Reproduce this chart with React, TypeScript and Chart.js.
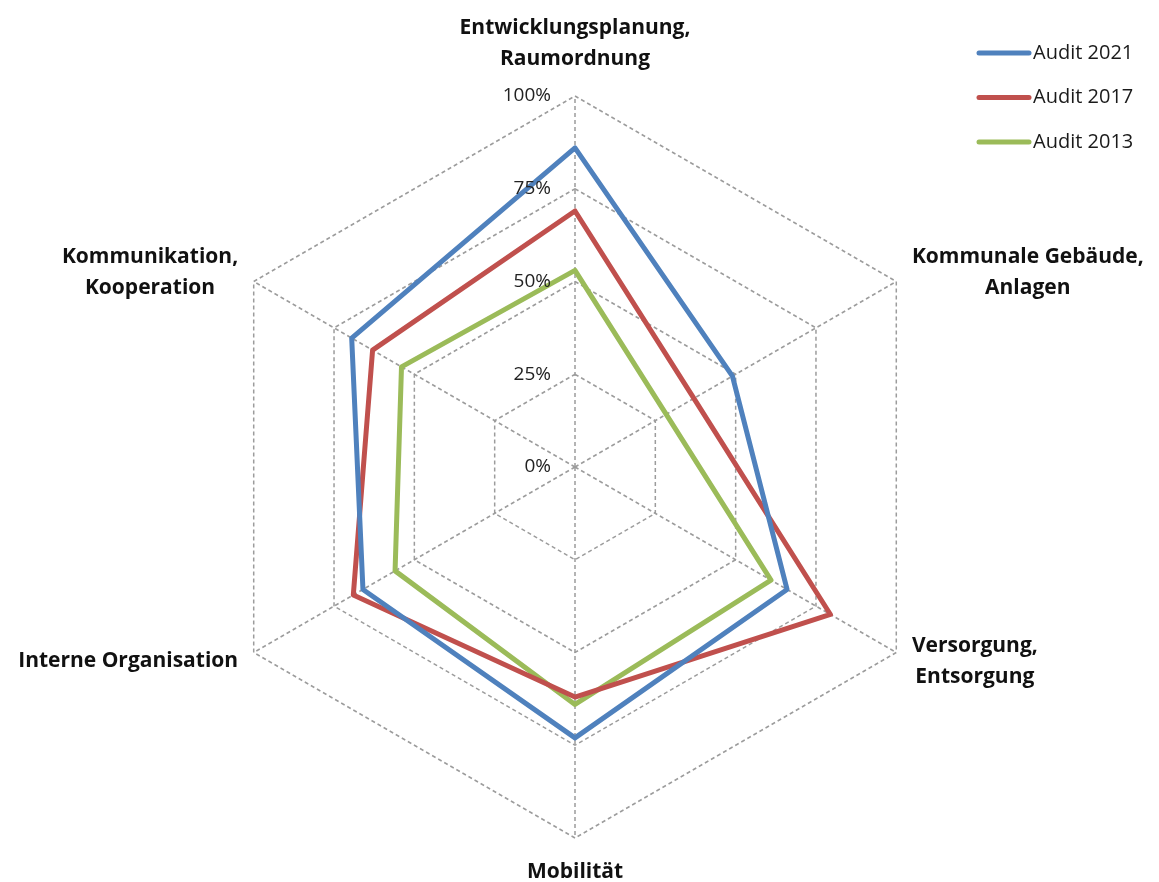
import React, { useEffect, useRef } from "react";
import { Chart, registerables } from "chart.js";

Chart.register(...registerables);

const categories: string[][] = [
  ["Entwicklungsplanung,", "Raumordnung"],
  ["Kommunale Gebäude,", "Anlagen"],
  ["Versorgung,", "Entsorgung"],
  ["Mobilität"],
  ["Interne Organisation"],
  ["Kommunikation,", "Kooperation"],
];

const seriesLabels = ["Audit 2021", "Audit 2017", "Audit 2013"];
const audit2021 = [86, 49, 66, 73, 66, 69.5];
const audit2017 = [69, 37, 79.5, 62, 69, 63];
const audit2013 = [53, 28.4, 61, 64, 56, 54];
const seriesColors = ["#4F81BD", "#C0504D", "#9BBB59"];

const tickValues = [0, 25, 50, 75, 100];
const tickLabels = ["0%", "25%", "50%", "75%", "100%"];

const LABEL_FONT = 'bold 21px "Open Sans"';
const LINE_H = 31;
const LABEL_GAP = 18;
const TICK_FONT = '19px "Open Sans"';
const LEGEND_FONT = '20px "Open Sans"';

const overlayPlugin = {
  id: "overlayText",
  afterDraw(chart: any) {
    const ctx = chart.ctx as CanvasRenderingContext2D;
    const scale = chart.scales.r;
    const labels = chart.data.labels as string[][];
    ctx.save();

    // category labels
    ctx.font = LABEL_FONT;
    ctx.fillStyle = "#111111";
    ctx.textAlign = "center";
    ctx.textBaseline = "middle";
    labels.forEach((raw, i) => {
      const lines = Array.isArray(raw) ? raw : [raw];
      const maxW = Math.max(...lines.map((l) => ctx.measureText(l).width));
      const pt = scale.getPointPosition(i, scale.drawingArea + LABEL_GAP);
      const blockH = lines.length * LINE_H;
      const dx = pt.x - scale.xCenter;
      let cx: number;
      let top: number;
      if (Math.abs(dx) < 1) {
        cx = pt.x;
        top = pt.y < scale.yCenter ? pt.y - blockH - 3 : pt.y + 1;
      } else {
        cx = dx > 0 ? pt.x + maxW / 2 : pt.x - maxW / 2;
        top = pt.y - blockH / 2;
      }
      lines.forEach((l, k) => ctx.fillText(l, cx, top + LINE_H * (k + 0.5)));
    });

    // tick labels
    ctx.font = TICK_FONT;
    ctx.fillStyle = "#222222";
    ctx.textAlign = "right";
    ctx.textBaseline = "middle";
    tickValues.forEach((v, i) => {
      const d = scale.getDistanceFromCenterForValue(v);
      ctx.fillText(tickLabels[i], scale.xCenter - 24, scale.yCenter - d);
    });

    // legend
    ctx.font = LEGEND_FONT;
    ctx.textAlign = "left";
    ctx.textBaseline = "middle";
    chart.data.datasets.forEach((ds: any, i: number) => {
      const y = 53 + i * 44.5;
      ctx.strokeStyle = ds.borderColor;
      ctx.lineWidth = 5;
      ctx.lineCap = "round";
      ctx.setLineDash([]);
      ctx.beginPath();
      ctx.moveTo(979, y);
      ctx.lineTo(1029, y);
      ctx.stroke();
      ctx.fillStyle = "#1a1a1a";
      ctx.fillText(ds.label, 1033, y);
    });

    ctx.restore();
  },
};

export default function App() {
  const canvasRef = useRef<HTMLCanvasElement | null>(null);

  useEffect(() => {
    const canvas = canvasRef.current;
    if (!canvas) return;
    const seriesData = [audit2021, audit2017, audit2013];
    const chart = new Chart(canvas, {
      type: "radar",
      data: {
        labels: categories,
        datasets: seriesLabels.map((label, i) => ({
          label,
          data: seriesData[i],
          borderColor: seriesColors[i],
          backgroundColor: "transparent",
          borderWidth: 5,
          pointRadius: 0,
          pointHoverRadius: 0,
          fill: false,
          tension: 0,
          borderJoinStyle: "round" as const,
        })),
      },
      options: {
        responsive: false,
        animation: false,
        devicePixelRatio: 1,
        layout: { padding: { left: 204, right: 213, top: 96, bottom: 44 } },
        plugins: {
          legend: { display: false },
          tooltip: { enabled: false },
        },
        scales: {
          r: {
            min: 0,
            max: 100,
            ticks: { stepSize: 25, display: false },
            pointLabels: { display: false },
            grid: { color: "#9c9c9c", lineWidth: 1.5 },
            border: { dash: [4, 3] },
            angleLines: {
              color: "#9c9c9c",
              lineWidth: 1.5,
              borderDash: [4, 3],
            },
          },
        },
      },
      plugins: [overlayPlugin],
    } as any);
    return () => chart.destroy();
  }, []);

  return (
    <div style={{ position: "fixed", left: 0, top: 0, width: 1159, height: 882, background: "#fff" }}>
      <canvas ref={canvasRef} width={1159} height={882} />
    </div>
  );
}
